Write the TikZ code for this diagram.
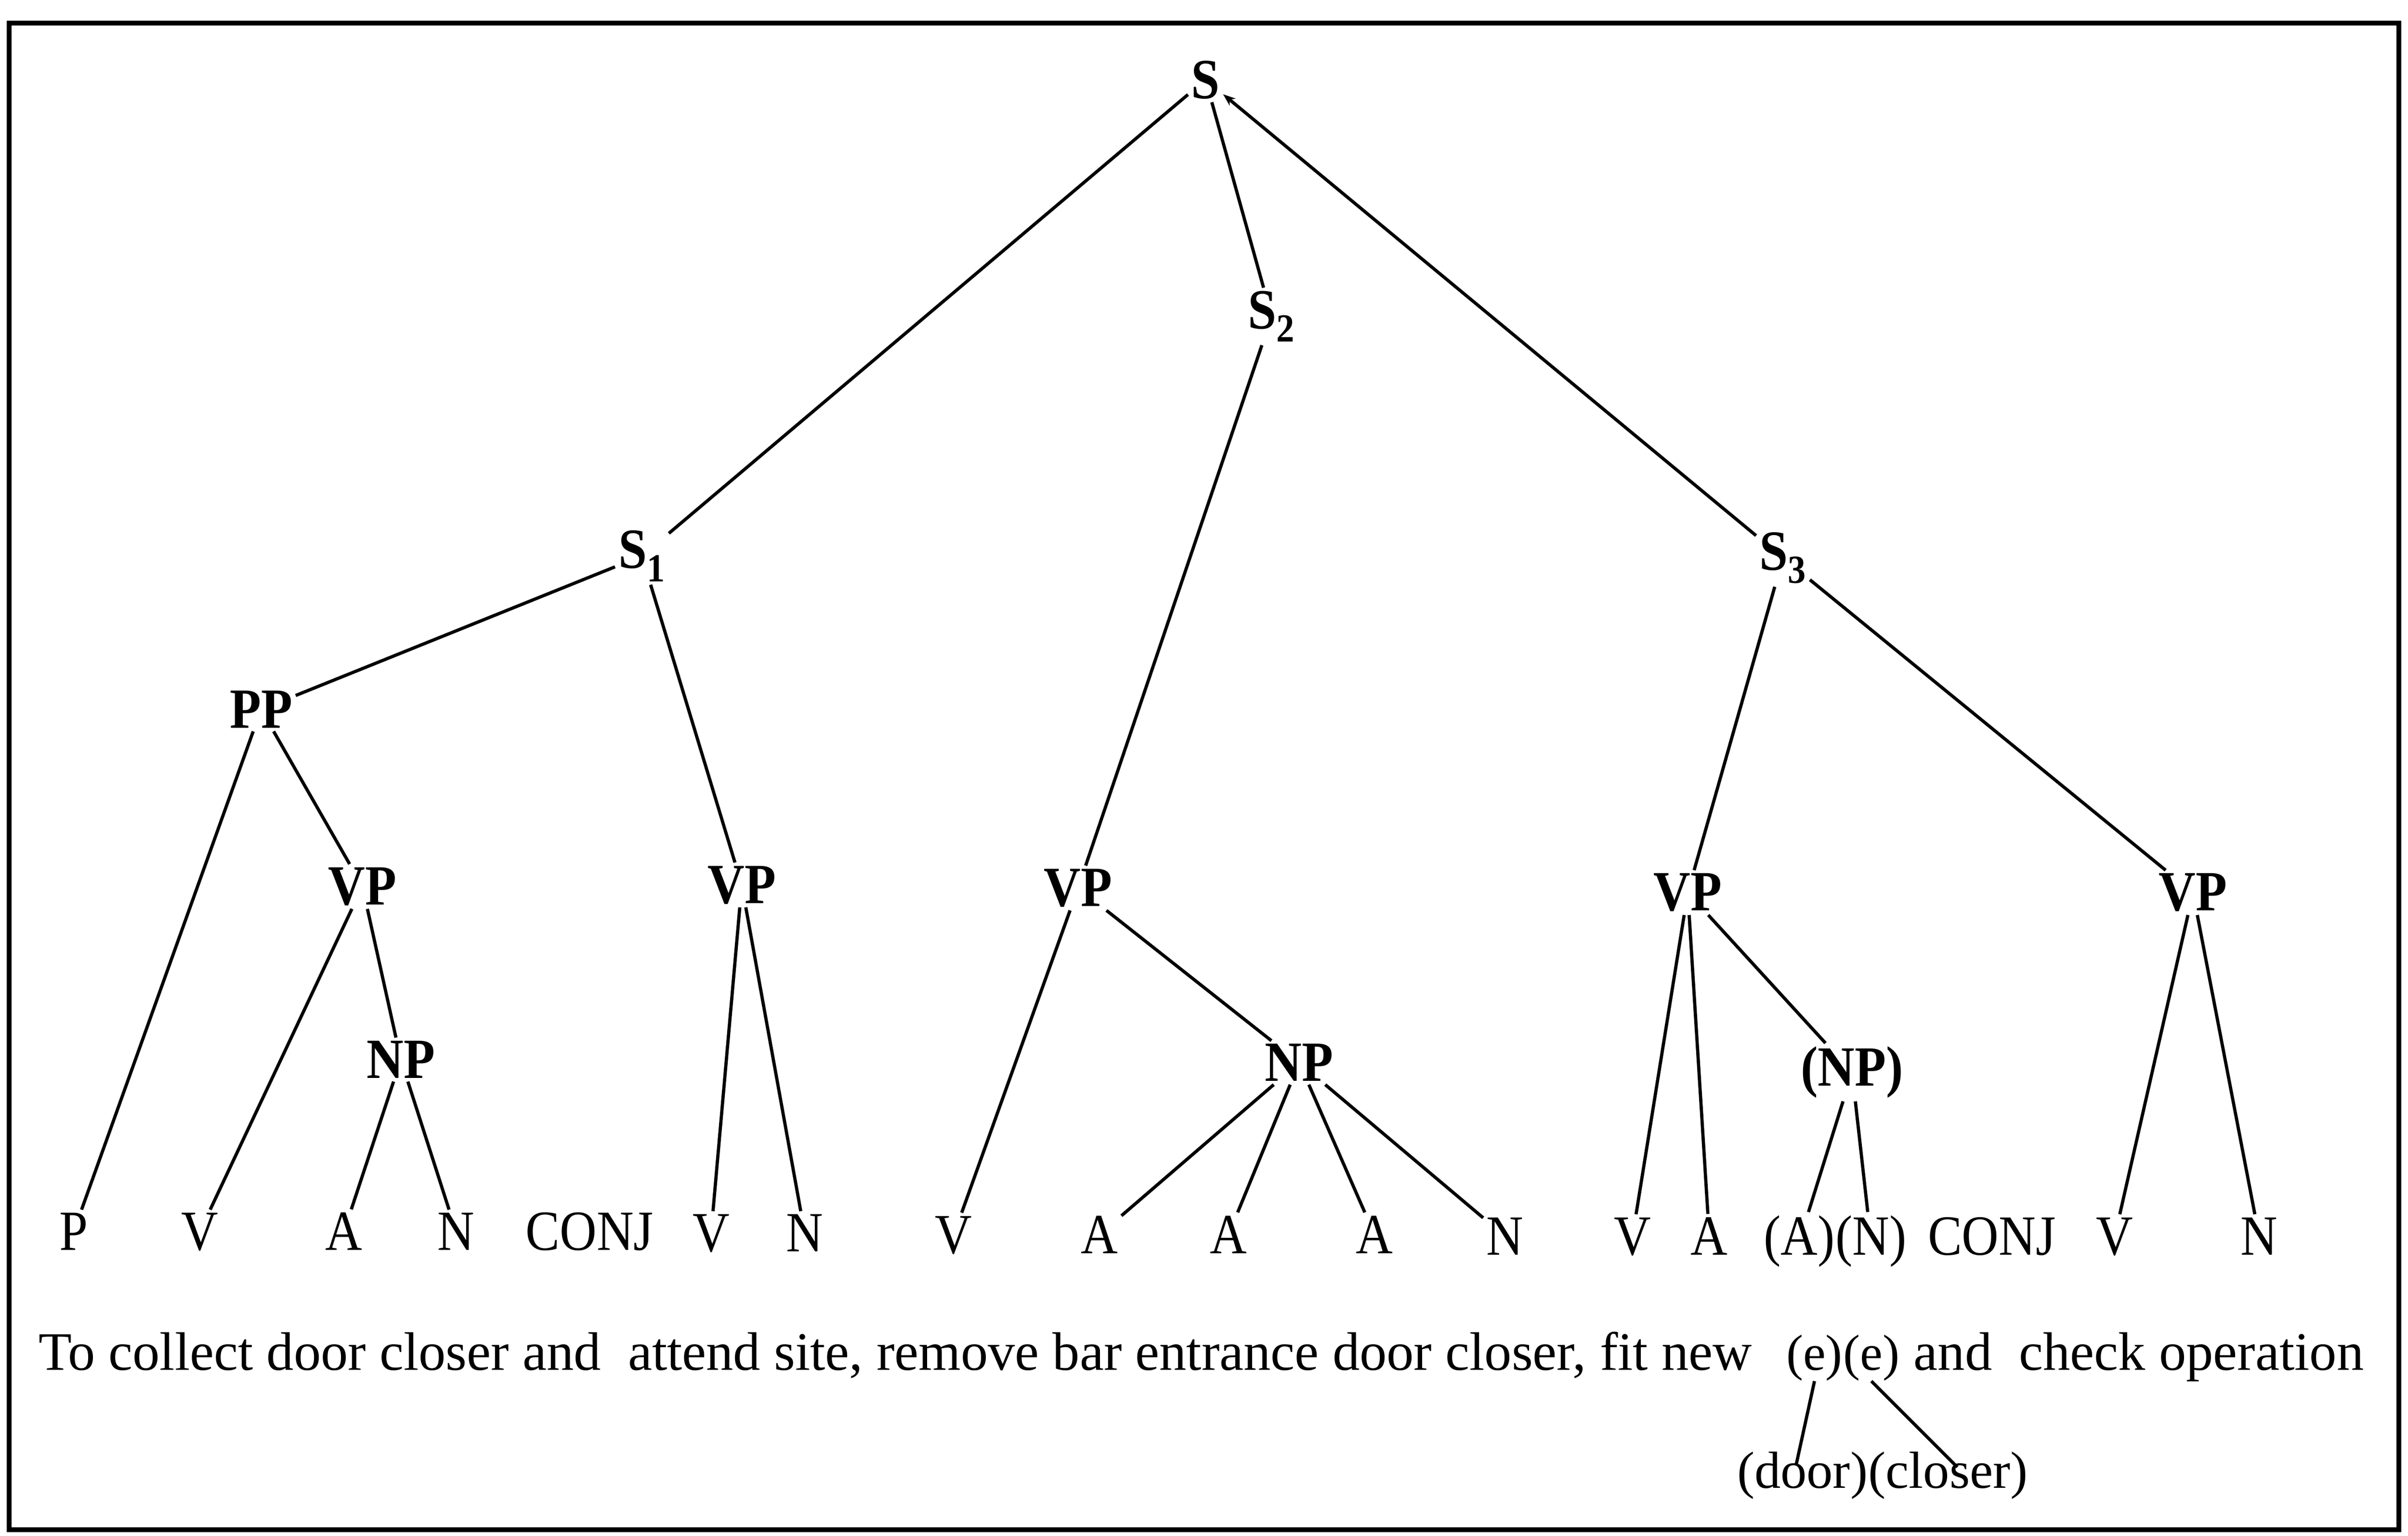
\documentclass[tikz,border=0pt]{standalone}
\usepackage{fontspec}
\setmainfont{Liberation Serif}[FakeStretch=0.9]
\newfontfamily\sentfont{Liberation Serif}
\usetikzlibrary{arrows.meta}
\begin{document}
\begin{tikzpicture}[x=1pt,y=-1pt,
  nt/.style={font=\fontsize{37}{40}\selectfont\bfseries, inner sep=2pt, anchor=base},
  lf/.style={font=\fontsize{37}{40}\selectfont, inner sep=2pt, anchor=base},
  sent/.style={font=\sentfont\fontsize{35.3}{40}\selectfont, inner sep=0pt, anchor=base west},
  small/.style={font=\sentfont\fontsize{33}{36}\selectfont, inner sep=0pt, anchor=base west},
  br/.style={line width=2.1pt},
]
\useasboundingbox (0,0) rectangle (1568,1000);
\draw[line width=3pt] (6,15) rectangle (1562,996);
% nonterminals
\node[nt] (S) at (785,64) {S};
\node[nt] (S2) at (828,214) {S\textsubscript{2}};
\node[nt] (S1) at (418,370) {S\textsubscript{1}};
\node[nt] (S3) at (1161,371) {S\textsubscript{3}};
\node[nt] (PP) at (170,474) {PP};
\node[nt] (VPa) at (236,589) {VP};
\node[nt] (VPb) at (483,588) {VP};
\node[nt] (NPa) at (261,702) {NP};
\node[nt] (VPc) at (702,590) {VP};
\node[nt] (NPb) at (846,704) {NP};
\node[nt] (VPd) at (1099,593) {VP};
\node[nt] (VPe) at (1428,593) {VP};
\node[nt] (NPc) at (1206,707) {(NP)};
% leaves
\node[lf] (lP) at (48,814) {P};
\node[lf] (lV1) at (130,814) {V};
\node[lf] (lA1) at (224,814) {A};
\node[lf] (lN1) at (297,814) {N};
\node[lf] (lC1) at (384,814) {CONJ};
\node[lf] (lV2) at (463,815) {V};
\node[lf] (lN2) at (524,815) {N};
\node[lf] (lV3) at (621,816) {V};
\node[lf] (lA2) at (716,816) {A};
\node[lf] (lA3) at (800,816) {A};
\node[lf] (lA4) at (895,816) {A};
\node[lf] (lN3) at (980,817) {N};
\node[lf] (lV4) at (1063,817) {V};
\node[lf] (lA5) at (1113,817) {A};
\node[lf, inner xsep=0pt, anchor=base east] (lpA) at (1195,817) {(A)};
\node[lf, inner xsep=0pt, anchor=base west] (lpN) at (1195,817) {(N)};
\node[lf] (lC2) at (1297,817) {CONJ};
\node[lf] (lV5) at (1377,817) {V};
\node[lf] (lN4) at (1471,817) {N};
% sentence
\node[sent] (s1) at (25,892) {To collect door closer and\ \ attend site, remove bar entrance door closer, fit new};
\node[small] (e1) at (1163,892) {(e)};
\node[small] (e2) at (e1.base east) {(e)};
\node[sent] (s3) at (1246,892) {and\ \ check operation};
\node[small, font=\sentfont\fontsize{34}{36}\selectfont] (door) at (1131,969) {(door)};
\node[small, font=\sentfont\fontsize{34}{36}\selectfont] (closer) at (door.base east) {(closer)};
% branches
\draw[br] (S) -- (S1);
\draw[br] (S) -- (S2);
\draw[br,-{Stealth[length=8pt,width=6pt]}] (S3) -- (S);
\draw[br] (S2) -- (VPc);
\draw[br] (S1) -- (PP);
\draw[br] (S1) -- (VPb);
\draw[br] (PP) -- (lP);
\draw[br] (PP) -- (VPa);
\draw[br] (VPa) -- (lV1);
\draw[br] (VPa) -- (NPa);
\draw[br] (NPa) -- (lA1);
\draw[br] (NPa) -- (lN1);
\draw[br] (VPb) -- (lV2);
\draw[br] (VPb) -- (lN2);
\draw[br] (VPc) -- (lV3);
\draw[br] (VPc) -- (NPb);
\draw[br] (NPb) -- (lA2);
\draw[br] (NPb) -- (lA3);
\draw[br] (NPb) -- (lA4);
\draw[br] (NPb) -- (lN3);
\draw[br] (S3) -- (VPd);
\draw[br] (S3) -- (VPe);
\draw[br] (VPd) -- (lV4);
\draw[br] (VPd) -- (lA5);
\draw[br] (VPd) -- (NPc);
\draw[br] (NPc) -- (lpA);
\draw[br] (NPc) -- (lpN);
\draw[br] (VPe) -- (lV5);
\draw[br] (VPe) -- (lN4);
\draw[br] (e1.south) -- ([xshift=-4pt,yshift=-8pt]door.north);
\draw[br] (e2.south) -- ([xshift=6pt,yshift=-10pt]closer.north);
\end{tikzpicture}
\end{document}
